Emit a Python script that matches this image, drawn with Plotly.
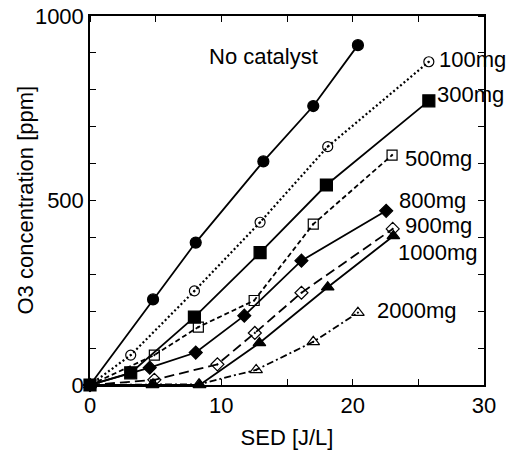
import plotly.graph_objects as go

# ---- data (SED [J/L] vs O3 concentration [ppm]) ----
series_names = ["No catalyst", "100mg", "300mg", "500mg", "800mg", "900mg", "1000mg", "2000mg"]

sed_none = [0, 4.8, 8.05, 13.2, 17.0, 20.4]
o3_none = [0, 232, 386, 606, 756, 921]

sed_100 = [0, 3.1, 7.95, 12.95, 18.1, 25.8]
o3_100 = [0, 81, 255, 441, 646, 876]

sed_300 = [0, 3.1, 7.95, 12.95, 18.0, 25.8]
o3_300 = [0, 33, 184, 359, 542, 770]

sed_500 = [0, 4.9, 8.25, 12.5, 17.0, 23.0]
o3_500 = [0, 81, 157, 229, 436, 623]

sed_800 = [0, 4.55, 8.05, 11.75, 16.1, 22.55]
o3_800 = [0, 47, 88, 188, 337, 472]

sed_900 = [0, 4.9, 9.7, 12.55, 16.1, 23.05]
o3_900 = [0, 14, 56, 141, 250, 423]

sed_1000 = [0, 4.75, 8.35, 12.9, 18.1, 23.1]
o3_1000 = [0, 0, 0, 114, 265, 404]

sed_2000 = [0, 4.8, 8.3, 12.65, 17.0, 20.4]
o3_2000 = [0, 2, 2, 41, 117, 196]

x_ticks = [0, 10, 20, 30]
y_ticks = [0, 500, 1000]

# label anchor points (data coords of left edge of each label)
label_x = [8.9, 26.4, 26.3, 23.8, 23.4, 23.8, 23.3, 21.7]
label_y = [889, 881, 788, 614, 501, 431, 360, 203]

FONT = "Liberation Sans, Arial, sans-serif"
FS = 22

xs = [sed_none, sed_100, sed_300, sed_500, sed_800, sed_900, sed_1000, sed_2000]
ys = [o3_none, o3_100, o3_300, o3_500, o3_800, o3_900, o3_1000, o3_2000]
dashes = ["solid", "2px,2.5px", "solid", "5px,3px", "solid", "10px,5px", "solid", "7px,3px,2px,3px"]
widths = [1.8, 2.2, 1.8, 1.8, 1.8, 1.8, 1.8, 1.8]
symbols = ["circle", "circle-open-dot", "square", "square-open-dot",
           "diamond", "diamond-open-dot", "triangle-up", "triangle-up-open-dot"]
sizes = [11, 10, 12, 10, 10, 10, 11, 11]

fig = go.Figure()
# draw order: 2000mg first so filled triangles sit on top
for i in reversed(range(len(series_names))):
    fig.add_trace(go.Scatter(
        x=xs[i], y=ys[i], mode="lines+markers", name=series_names[i],
        line=dict(color="black", width=widths[i], dash=dashes[i]),
        marker=dict(symbol=symbols[i], size=sizes[i], color="black",
                    line=dict(color="black", width=1.2)),
        cliponaxis=False, showlegend=False,
    ))

# invisible trace to create the mirrored top/right axes (for mirrored minor ticks)
fig.add_trace(go.Scatter(x=[None], y=[None], xaxis="x2", yaxis="y2",
                         mode="markers", showlegend=False, hoverinfo="skip"))

for name, lx, ly in zip(series_names, label_x, label_y):
    fig.add_annotation(x=lx, y=ly, text=name, showarrow=False,
                       xanchor="left", yanchor="middle",
                       font=dict(family=FONT, size=FS, color="black"))

# y-axis title as a rotated annotation (precise placement)
fig.add_annotation(text="O3 concentration [ppm]", xref="paper", yref="paper",
                   x=0, y=0.5, xshift=-65, xanchor="center", yanchor="middle",
                   textangle=-90, showarrow=False,
                   font=dict(family=FONT, size=FS, color="black"))

tick_style = dict(ticks="inside", ticklen=6, tickwidth=1.2, tickcolor="black")

axis_common = dict(
    showline=True, linecolor="black", linewidth=1.5, mirror="ticks",
    showgrid=False, zeroline=False, automargin=False,
    tickfont=dict(family=FONT, size=FS, color="black"),
    **tick_style,
)

fig.update_layout(
    width=510, height=450,
    margin=dict(l=90, r=26, t=16, b=65),
    paper_bgcolor="white", plot_bgcolor="white",
    font=dict(family=FONT, size=FS, color="black"),
    xaxis=dict(range=[0, 30], tickvals=x_ticks,
               minor=dict(dtick=5, **tick_style),
               title=dict(text="SED [J/L]", font=dict(family=FONT, size=FS, color="black"), standoff=17),
               **axis_common),
    yaxis=dict(range=[0, 1000], tickvals=y_ticks,
               minor=dict(dtick=100, **tick_style),
               **axis_common),
    xaxis2=dict(range=[0, 30], overlaying="x", side="top", anchor="y2",
                tickvals=[], showticklabels=False, showgrid=False, zeroline=False,
                showline=False, automargin=False, minor=dict(dtick=5, **tick_style)),
    yaxis2=dict(range=[0, 1000], overlaying="y", side="right", anchor="x2",
                tickvals=[], showticklabels=False, showgrid=False, zeroline=False,
                showline=False, automargin=False, minor=dict(dtick=100, **tick_style)),
)

fig.write_html("out.html")
